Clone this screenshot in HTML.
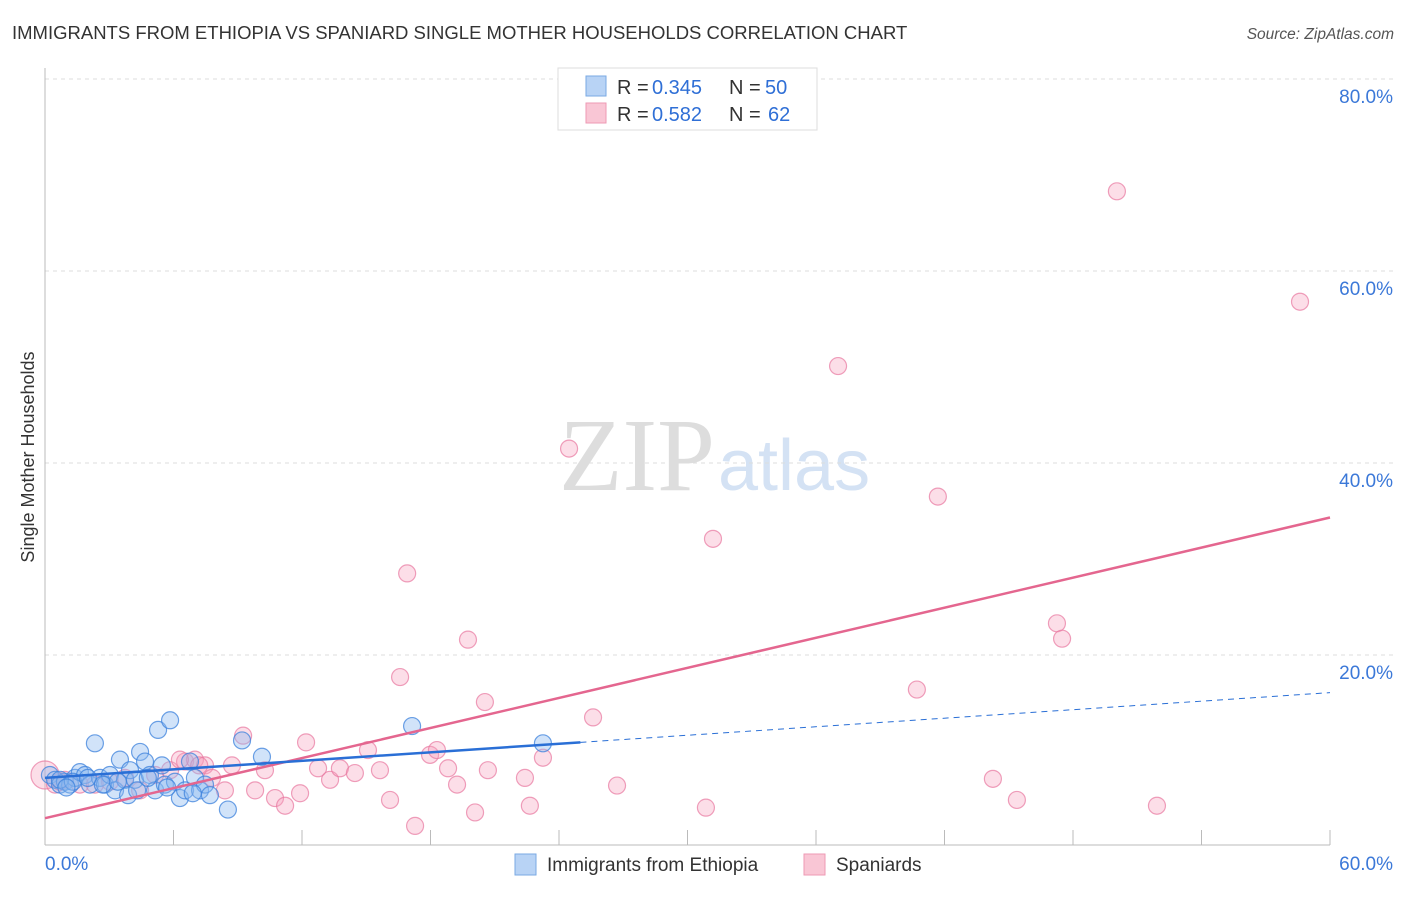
<!DOCTYPE html>
<html><head><meta charset="utf-8"><style>
body{margin:0;background:#fff;font-family:"Liberation Sans",sans-serif}
</style></head><body>
<svg width="1406" height="892" xmlns="http://www.w3.org/2000/svg" style="font-family:'Liberation Sans',sans-serif">
<text x="12" y="39" font-size="18.5" fill="#333">IMMIGRANTS FROM ETHIOPIA VS SPANIARD SINGLE MOTHER HOUSEHOLDS CORRELATION CHART</text>
<text x="1394" y="39" font-size="15.5" fill="#555" font-style="italic" text-anchor="end">Source: ZipAtlas.com</text>
<text x="34" y="457" font-size="18" fill="#333" text-anchor="middle" transform="rotate(-90 34 457)">Single Mother Households</text>
<text x="715" y="490" font-size="104" fill="#ddd" text-anchor="end" font-family="Liberation Serif">ZIP</text>
<text x="718" y="490" font-size="72" fill="#d4e2f4">atlas</text>
<g id="grid"></g><g id="axes"></g><g id="pts"></g><g id="lines"></g>
<g>
<rect x="558" y="68" width="259" height="62" fill="#fff" stroke="#ddd"/>
<rect x="586" y="76" width="20" height="20" fill="#b8d3f5" stroke="#7aa9e3"/>
<rect x="586" y="103" width="20" height="20" fill="#f9c6d5" stroke="#ee9ab4"/>
<text x="617" y="94" font-size="20" fill="#333">R =</text>
<text x="652" y="94" font-size="20" fill="#2f6fd6">0.345</text>
<text x="729" y="94" font-size="20" fill="#333">N =</text>
<text x="765" y="94" font-size="20" fill="#2f6fd6">50</text>
<text x="617" y="121" font-size="20" fill="#333">R =</text>
<text x="652" y="121" font-size="20" fill="#2f6fd6">0.582</text>
<text x="729" y="121" font-size="20" fill="#333">N =</text>
<text x="768" y="121" font-size="20" fill="#2f6fd6">62</text>
</g>
<g>
<rect x="515" y="854" width="21" height="21" fill="#b8d3f5" stroke="#7aa9e3"/>
<text x="547" y="871" font-size="19" fill="#333">Immigrants from Ethiopia</text>
<rect x="804" y="854" width="21" height="21" fill="#f9c6d5" stroke="#ee9ab4"/>
<text x="836" y="871" font-size="19" fill="#333">Spaniards</text>
</g>
</svg>
<script>
const blueX=[0.23,0.47,0.70,0.93,1.17,1.40,1.63,1.87,2.10,2.33,2.57,2.80,3.03,3.27,3.50,3.74,3.88,3.97,4.20,4.44,4.67,4.90,5.14,5.28,5.46,5.60,5.84,6.07,6.30,6.54,6.77,7.00,7.24,7.47,7.70,8.54,9.20,10.13,17.14,23.25,0.7,1.3,2.0,2.7,3.4,4.3,4.8,5.7,6.9,1.0];
const blueY=[7.5,7.0,6.5,6.8,6.5,7.2,7.8,7.5,6.5,10.8,7.2,6.5,7.5,5.9,9.1,7.0,5.4,8.0,7.0,9.9,8.9,7.5,5.9,12.2,8.5,6.5,13.2,6.8,5.1,5.9,8.9,7.2,5.9,6.5,5.4,3.9,11.1,9.4,12.6,10.8,7.0,6.8,7.2,6.5,6.8,5.9,7.2,6.2,5.6,6.2];
const pinkX=[0,0.47,0.93,1.63,2.33,3.03,3.74,4.44,5.14,5.84,6.54,7.00,7.47,7.80,8.40,8.73,9.25,9.81,10.27,10.74,11.21,11.91,12.19,12.75,13.31,13.77,14.47,15.08,15.64,16.11,16.58,16.91,17.28,17.98,18.30,18.82,19.24,19.75,20.08,20.54,20.68,22.41,22.64,23.25,24.47,25.59,26.71,30.86,31.19,37.03,40.71,41.69,44.26,45.38,47.25,47.49,50.05,51.92,58.60,6.3,7.2,0.7];
const pinkY=[7.5,6.5,7.0,6.5,6.5,6.8,7.2,5.9,7.5,8.0,8.9,9.1,8.5,7.2,5.9,8.5,11.6,5.9,8.0,5.1,4.3,5.6,10.9,8.2,7.0,8.2,7.7,10.1,8.0,4.9,17.7,28.5,2.2,9.6,10.1,8.2,6.5,21.6,3.6,15.1,8.0,7.2,4.3,9.3,41.5,13.5,6.4,4.1,32.1,50.1,16.4,36.5,7.1,4.9,23.3,21.7,68.3,4.3,56.8,9.1,8.5,6.8];
const yTicks=[20,40,60,80];
const blueFit=[7.2,0.148], pinkFit=[3.0,0.522];
const NS="http://www.w3.org/2000/svg";
const X=v=>45+v/60*1285, Y=v=>847-v*9.6;
function mk(t,a,p){const e=document.createElementNS(NS,t);for(const k in a)e.setAttribute(k,a[k]);document.getElementById(p).appendChild(e);return e;}
yTicks.forEach(t=>{
 const g=mk('line',{x1:45,x2:1394,y1:Y(t),y2:Y(t),stroke:'#ddd','stroke-dasharray':'4,4'},'grid');
 
 
 const l=mk('text',{x:1393,y:Y(t)+24,'font-size':19,fill:'#3b78d8','text-anchor':'end'},'grid');
 l.textContent=t.toFixed(1)+'%';
 
 
});
const ax=mk('line',{x1:45,x2:45,y1:68,y2:845,stroke:'#bbb'},'axes');


const bx=mk('line',{x1:45,x2:1330,y1:845,y2:845,stroke:'#bbb'},'axes');


for(let i=1;i<=10;i++){const t=mk('line',{x1:X(i*6),x2:X(i*6),y1:830,y2:845,stroke:'#bbb'},'axes');
 
 }
[['0.0%',45,'start'],['60.0%',1393,'end']].forEach(([s,x,a])=>{const t=mk('text',{x:x,y:870,'font-size':19,fill:'#3b78d8','text-anchor':a},'axes');t.textContent=s;
 
 });
pinkX.forEach((v,i)=>{const c=mk('circle',{cx:X(v),cy:Y(pinkY[i]),r:i==0?14:8.5,fill:'rgba(245,160,190,0.35)',stroke:'rgba(232,120,160,0.7)','stroke-width':1.2},'pts');
 
 });
blueX.forEach((v,i)=>{const c=mk('circle',{cx:X(v),cy:Y(blueY[i]),r:8.5,fill:'rgba(140,185,240,0.4)',stroke:'rgba(60,130,220,0.75)','stroke-width':1.2},'pts');
 
 });
const pl=mk('line',{x1:X(0),y1:Y(pinkFit[0]),x2:X(60),y2:Y(pinkFit[0]+pinkFit[1]*60),stroke:'#e4668f','stroke-width':2.5},'lines');


const bl=mk('line',{x1:X(0),y1:Y(blueFit[0]),x2:X(25),y2:Y(blueFit[0]+blueFit[1]*25),stroke:'#2a6fd6','stroke-width':2.5},'lines');


const bd=mk('line',{x1:X(25),y1:Y(blueFit[0]+blueFit[1]*25),x2:X(60),y2:Y(blueFit[0]+blueFit[1]*60),stroke:'#2a6fd6','stroke-width':1,'stroke-dasharray':'6,5'},'lines');


</script>
</body></html>
